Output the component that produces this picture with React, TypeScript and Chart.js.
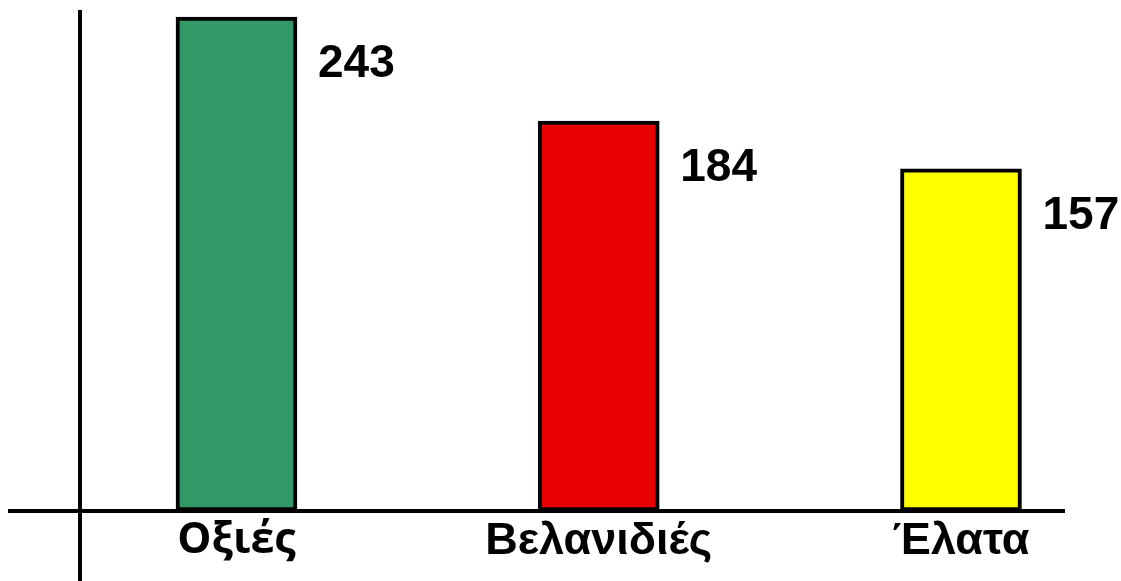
import React, { useEffect, useRef } from "react";
import { Chart, registerables } from "chart.js";

Chart.register(...registerables);

const categories = ["Οξιές", "Βελανιδιές", "Έλατα"];
const values = [243, 184, 157];
const barColors = ["#339966", "#E60000", "#FFFF00"];
const axisMin = -37;
const axisMax = 247;

const axesPlugin = {
  id: "axesLines",
  beforeDatasetsDraw(chart: any) {
    const ctx = chart.ctx;
    const y = chart.scales.y.getPixelForValue(axisMin);
    ctx.save();
    ctx.strokeStyle = "#000";
    ctx.lineWidth = 4;
    ctx.beginPath();
    ctx.moveTo(8, y);
    ctx.lineTo(1065, y);
    ctx.moveTo(80, 10);
    ctx.lineTo(80, 581);
    ctx.stroke();
    ctx.restore();
  },
};

const valueLabels = {
  id: "valueLabels",
  afterDatasetsDraw(chart: any) {
    const ctx = chart.ctx;
    const meta = chart.getDatasetMeta(0);
    ctx.save();
    ctx.fillStyle = "#000";
    ctx.font = "bold 46px 'Liberation Sans', Arial, sans-serif";
    ctx.textAlign = "left";
    ctx.textBaseline = "alphabetic";
    meta.data.forEach((bar: any, i: number) => {
      ctx.fillText(String(values[i]), bar.x + bar.width / 2 + 21, bar.y + 60);
    });
    ctx.restore();
  },
};

export default function App() {
  const ref = useRef<HTMLCanvasElement>(null);
  useEffect(() => {
    const chart = new Chart(ref.current!, {
      type: "bar",
      data: {
        labels: categories,
        datasets: [
          {
            data: values,
            backgroundColor: barColors,
            borderColor: "#000",
            borderWidth: 4,
            borderSkipped: false,
            barThickness: 121,
            base: axisMin,
            clip: false,
          } as any,
        ],
      },
      options: {
        animation: false,
        responsive: false,
        maintainAspectRatio: false,
        layout: { padding: { left: 236.5, right: 160, top: 10, bottom: 0 } },
        plugins: { legend: { display: false }, tooltip: { enabled: false }, title: { display: false } },
        scales: {
          x: {
            offset: false,
            grid: { display: false, drawTicks: false },
            border: { display: false },
            ticks: {
              color: "#000",
              padding: 4,
              maxRotation: 0,
              autoSkip: false,
              font: (c: any) => ({
                family: c.index === 0 ? "'Open Sans', sans-serif" : "'Liberation Sans', Arial, sans-serif",
                weight: "bold",
                size: c.index === 0 ? 43 : 45,
              }),
            },
            afterFit: (scale: any) => {
              scale.height = 70;
            },
          },
          y: {
            display: false,
            min: axisMin,
            max: axisMax,
          },
        },
      },
      plugins: [axesPlugin, valueLabels],
    });
    return () => chart.destroy();
  }, []);
  return (
    <div style={{ position: "fixed", left: 0, top: 0, width: 1121, height: 581, background: "#fff" }}>
      <canvas ref={ref} width={1121} height={581} style={{ display: "block" }} />
    </div>
  );
}
